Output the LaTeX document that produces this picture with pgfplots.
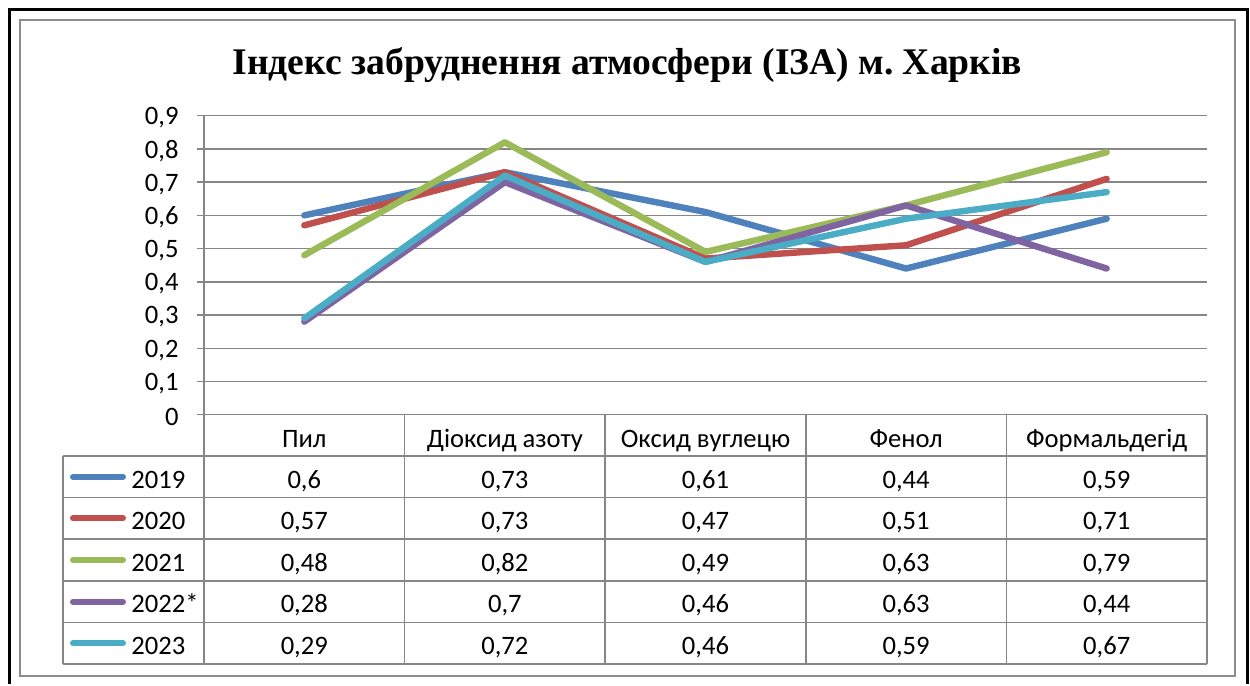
\documentclass[border=0pt]{standalone}
\usepackage{pgfplots}
\pgfplotsset{compat=1.18}
\usepackage{pgfplotstable}
\usepackage{fontspec}
\setmainfont{Carlito}
\newfontfamily\titlefont{Liberation Serif}
\frenchspacing
\definecolor{c19}{HTML}{4F81BD}
\definecolor{c20}{HTML}{C0504D}
\definecolor{c21}{HTML}{9BBB59}
\definecolor{c22}{HTML}{8064A2}
\definecolor{c23}{HTML}{4BACC6}
\definecolor{gridc}{HTML}{868686}
\definecolor{borderc}{HTML}{8C8C8C}

\pgfplotstableread{
x   y2019 y2020 y2021 y2022 y2023
0.5 0.60  0.57  0.48  0.28  0.29
1.5 0.73  0.73  0.82  0.70  0.72
2.5 0.61  0.47  0.49  0.46  0.46
3.5 0.44  0.51  0.63  0.63  0.59
4.5 0.59  0.71  0.79  0.44  0.67
}\datatable

% #1 row top (px), #2 colour, #3 year, #4-#8 values
\newcommand{\tablerow}[8]{%
  \draw[#2, line width=3pt, line cap=round] (73,#1+20.8) -- (123,#1+20.8);
  \node[anchor=base west, inner sep=0pt] at (131,#1+32) {#3};
  \node[anchor=base, inner sep=0pt] at (304.3,#1+32) {#4};
  \node[anchor=base, inner sep=0pt] at (504.9,#1+32) {#5};
  \node[anchor=base, inner sep=0pt] at (705.5,#1+32) {#6};
  \node[anchor=base, inner sep=0pt] at (906.1,#1+32) {#7};
  \node[anchor=base, inner sep=0pt] at (1106.7,#1+32) {#8};
}

\begin{document}
\begin{tikzpicture}[font=\fontsize{13.3}{15}\selectfont]
\begin{scope}[x=0.5pt,y=-0.5pt]
  \path (0,0) rectangle (1250,684);
  \draw[line width=1.5pt] (9.5,684) -- (9.5,9.5) -- (1247,9.5) -- (1247,684);
  \draw[borderc, line width=1pt] (20,20) rectangle (1235,676);
  \node[font=\titlefont\bfseries\fontsize{18.8}{21}\selectfont, anchor=base, inner sep=0pt]
    at (627.5,74) {Індекс забруднення атмосфери (ІЗА) м. Харків};
\end{scope}

\begin{axis}[
  at={(102pt,-207.35pt)}, anchor=south west,
  scale only axis, width=501.5pt, height=149.5pt,
  xmin=0, xmax=5, ymin=0, ymax=0.9,
  xtick=\empty,
  ytick={0,0.1,0.2,0.3,0.4,0.5,0.6,0.7,0.8,0.9},
  axis x line*=bottom, axis y line*=left,
  ymajorgrids,
  grid style={gridc, line width=0.75pt},
  axis line style={gridc, line width=0.75pt, -},
  tick style={gridc, line width=0.75pt},
  tick align=outside, major tick length=3.5pt,
  yticklabel style={font=\fontsize{13.3}{15}\selectfont, anchor=east, inner sep=0pt, xshift=-9pt, yshift=-1pt},
  /pgf/number format/use comma,
  /pgf/number format/fixed,
  /pgf/number format/precision=1,
  /pgf/number format/assume math mode=true,
  clip=false,
]
\addplot[c19, line width=3.2pt, line cap=round, line join=round] table[x=x,y=y2019]{\datatable};
\addplot[c20, line width=3.2pt, line cap=round, line join=round] table[x=x,y=y2020]{\datatable};
\addplot[c21, line width=3.2pt, line cap=round, line join=round] table[x=x,y=y2021]{\datatable};
\addplot[c22, line width=3.2pt, line cap=round, line join=round] table[x=x,y=y2022]{\datatable};
\addplot[c23, line width=3.2pt, line cap=round, line join=round] table[x=x,y=y2023]{\datatable};
\end{axis}

\begin{scope}[x=0.5pt,y=-0.5pt]
  % table grid
  \foreach \yy in {456,497.6,539.2,580.8,622.4,664}
    \draw[gridc, line width=0.75pt] (63,\yy) -- (1207,\yy);
  \draw[gridc, line width=0.75pt] (63,456) -- (63,664);
  \foreach \xx in {204,404.6,605.2,805.8,1006.4,1207}
    \draw[gridc, line width=0.75pt] (\xx,414.7) -- (\xx,664);
  % header
  \node[anchor=base, inner sep=0pt] at (304.3,447) {Пил};
  \node[anchor=base, inner sep=0pt] at (504.9,447) {Діоксид азоту};
  \node[anchor=base, inner sep=0pt] at (705.5,447) {Оксид вуглецю};
  \node[anchor=base, inner sep=0pt] at (906.1,447) {Фенол};
  \node[anchor=base, inner sep=0pt] at (1106.7,447) {Формальдегід};
  % rows
  \tablerow{456}{c19}{2019}{0,6}{0,73}{0,61}{0,44}{0,59}
  \tablerow{497.6}{c20}{2020}{0,57}{0,73}{0,47}{0,51}{0,71}
  \tablerow{539.2}{c21}{2021}{0,48}{0,82}{0,49}{0,63}{0,79}
  \tablerow{580.8}{c22}{2022*}{0,28}{0,7}{0,46}{0,63}{0,44}
  \tablerow{622.4}{c23}{2023}{0,29}{0,72}{0,46}{0,59}{0,67}
\end{scope}
\end{tikzpicture}
\end{document}
